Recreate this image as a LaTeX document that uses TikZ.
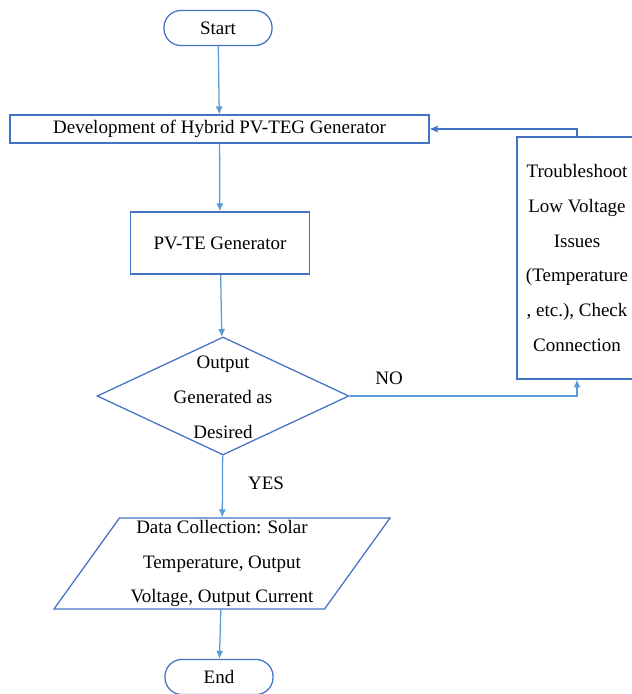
\documentclass[tikz,border=0pt]{standalone}
\usepackage{fontspec}
\setmainfont{Liberation Serif}
\usetikzlibrary{arrows.meta,positioning,shapes.geometric}

\definecolor{boxblue}{HTML}{4472C4}
\definecolor{linkblue}{HTML}{5B9BD5}

\tikzset{
  term/.style={draw=boxblue, line width=0.8pt, rectangle, rounded corners=0.38cm, minimum width=2.4cm, minimum height=0.78cm, font=\fontsize{12}{22}\selectfont},
  block/.style={draw=boxblue, line width=0.8pt, rectangle, align=center, font=\fontsize{12}{22}\selectfont},
  decision/.style={draw=boxblue, line width=0.8pt, diamond, inner sep=0pt, minimum width=5.59cm, minimum height=2.62cm},
  io/.style={draw=boxblue, line width=0.8pt, trapezium, trapezium left angle=54, trapezium right angle=126, trapezium stretches body=true, inner sep=1pt, minimum width=7.46cm, minimum height=2.02cm, align=center, font=\fontsize{12}{22}\selectfont},
  lbl/.style={font=\fontsize{12}{22}\selectfont, align=center},
  conn/.style={-{Latex[length=5pt,width=4.5pt]}, draw=linkblue, line width=0.8pt},
  back/.style={-{Latex[length=5pt,width=4.5pt]}, draw=boxblue, line width=0.8pt}
}

\begin{document}
\begin{tikzpicture}[x=0.0222cm, y=-0.0222cm]
        \useasboundingbox (0,0) rectangle (632,694);

        \node[term] (start) at (218,28) {Start};
        \node[block, minimum width=9.30cm, minimum height=0.62cm] (dev) at (219.5,129) {Development of Hybrid PV-TEG Generator};
        \node[block, minimum width=3.97cm, minimum height=1.38cm] (pvte) at (220,243) {PV-TE Generator};
        \node[decision] (check) at (223,396) {};
        \node[lbl] (checktext) at (223,397) {Output\\Generated as\\Desired};
        \node[block, minimum width=2.66cm, minimum height=5.37cm] (trouble) at (577,258) {Troubleshoot\\Low Voltage\\Issues\\(Temperature\\, etc.), Check\\Connection};
        \node[io] (data) at (222,563.5) {Data Collection: Solar\\Temperature, Output\\Voltage, Output Current};
        \node[term] (stop) at (219,677) {End};

        \node[lbl] (no) at (389,378) {NO};
        \node[lbl] (yes) at (266,483) {YES};

        \draw[conn] (start) -- (dev);
        \draw[conn] (dev) -- (pvte);
        \draw[conn] (pvte) -- (check);
        \draw[conn] (check) -- (data);
        \draw[conn] (data) -- (stop);
        \draw[conn] (check.east) -| (trouble.south);
        \draw[back] (trouble.north) |- (dev.east);
      \end{tikzpicture}
\end{document}
